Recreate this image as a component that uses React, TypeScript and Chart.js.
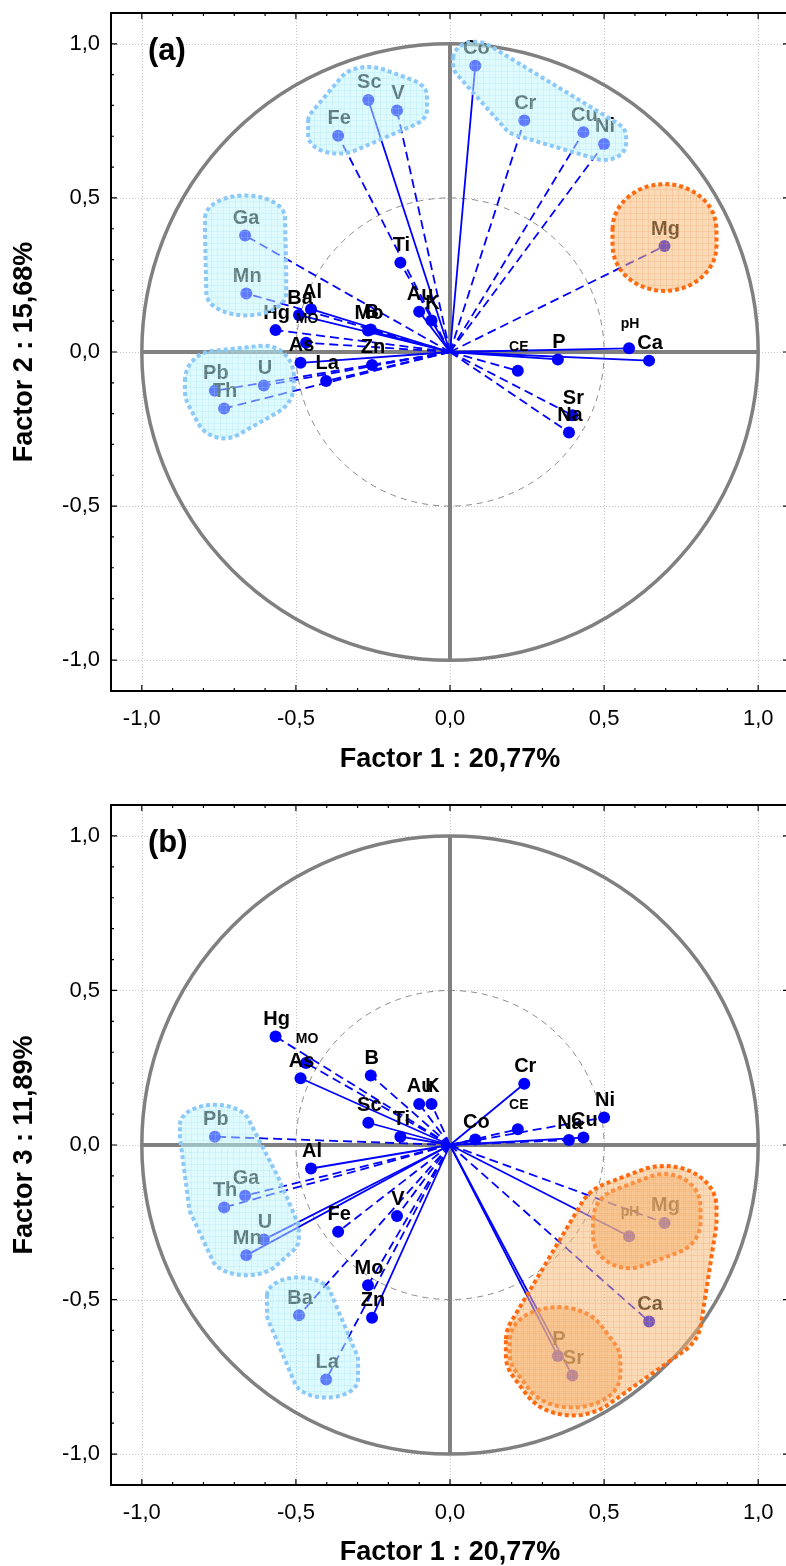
import React, { useEffect, useRef } from 'react';
import { Chart, registerables } from 'chart.js';

Chart.register(...registerables);

// ---------- DATA ----------
const VARIABLES = ['Al', 'As', 'Au', 'B', 'Ba', 'Ca', 'CE', 'Co', 'Cr', 'Cu', 'Fe', 'Ga', 'Hg', 'K', 'La', 'Mg', 'Mn', 'MO', 'Mo', 'Na', 'Ni', 'P', 'Pb', 'pH', 'Sc', 'Sr', 'Th', 'Ti', 'U', 'V', 'Zn'];
const FACTOR1 = [-0.451, -0.485, -0.100, -0.257, -0.490, 0.646, 0.220, 0.082, 0.241, 0.433, -0.363, -0.665, -0.566, -0.060, -0.402, 0.696, -0.661, -0.467, -0.266, 0.386, 0.500, 0.350, -0.763, 0.581, -0.265, 0.397, -0.733, -0.161, -0.604, -0.172, -0.253];
const FACTOR2 = [0.139, -0.035, 0.131, 0.073, 0.120, -0.028, -0.061, 0.929, 0.751, 0.713, 0.702, 0.378, 0.071, 0.102, -0.094, 0.344, 0.190, 0.030, 0.070, -0.261, 0.675, -0.024, -0.126, 0.012, 0.818, -0.205, -0.183, 0.290, -0.109, 0.784, -0.042];
const FACTOR3 = [-0.076, 0.216, 0.133, 0.225, -0.551, -0.571, 0.051, 0.018, 0.198, 0.024, -0.281, -0.164, 0.351, 0.133, -0.759, -0.252, -0.357, 0.265, -0.454, 0.016, 0.089, -0.683, 0.027, -0.295, 0.072, -0.746, -0.202, 0.027, -0.306, -0.230, -0.559];
const SMALL_LABELS = ['CE', 'pH', 'MO'];
const TICK_VALUES = [-1.0, -0.5, 0.0, 0.5, 1.0];
const AXIS_MIN = -1.1;
const AXIS_MAX = 1.1;
const X_TITLE = 'Factor 1 : 20,77%';
const Y_TITLE_A = 'Factor 2 : 15,68%';
const Y_TITLE_B = 'Factor 3 : 11,89%';
const DASHED_A = ['Fe', 'V', 'Cr', 'Cu', 'Ni', 'Mg', 'Ga', 'Mn', 'Hg', 'MO', 'B', 'Zn', 'La', 'Pb', 'Th', 'U', 'CE', 'Sr', 'Na', 'Ti'];
const DASHED_B = ['Hg', 'MO', 'B', 'Au', 'K', 'Pb', 'Ga', 'Th', 'Fe', 'V', 'Ba', 'La', 'CE', 'Na', 'Ni', 'Mg', 'Ca', 'Mo'];
const GROUPS_A = [
  { members: ['Sc', 'V', 'Fe'], kind: 'cyan' },
  { members: ['Co', 'Cr', 'Cu', 'Ni'], kind: 'cyan' },
  { members: ['Ga', 'Mn'], kind: 'cyan' },
  { members: ['Pb', 'Th', 'U'], kind: 'cyan' },
  { members: ['Mg'], kind: 'orange' },
];
const GROUPS_B = [
  { members: ['Pb', 'Ga', 'Th', 'U', 'Mn'], kind: 'cyan' },
  { members: ['Ba', 'La'], kind: 'cyan' },
  { members: ['pH', 'Mg'], kind: 'orange' },
  { members: ['P', 'Sr'], kind: 'orange' },
  { members: ['pH', 'Mg', 'Ca', 'P', 'Sr'], kind: 'orange' },
];

// ---------- STYLE ----------
const FAMILY = "'Liberation Sans', Arial, Helvetica, sans-serif";
const BLOB_PAD_A = [
  { rx: 30, ry: 18, lift: 15 },
  { rx: 22, ry: 16, lift: 8 },
  { rx: 40, ry: 22, lift: 18 },
  { rx: 30, ry: 30, lift: 10 },
  { rx: 52, ry: 45, lift: 17 },
];
const BLOB_PAD_B = [
  { rx: 35, ry: 20, lift: 12 },
  { rx: 32, ry: 18, lift: 20 },
  { rx: 36, ry: 32, lift: 17 },
  { rx: 48, ry: 32, lift: 17 },
  { rx: 52, ry: 40, lift: 17 },
];
const BLOB_STYLE: Record<string, { fill: string; hatch: string; border: string }> = {
  cyan: { fill: 'rgb(190,245,250)', hatch: 'rgba(150,220,240,0.22)', border: '#8cc8f8' },
  orange: { fill: 'rgb(246,180,112)', hatch: 'rgba(240,160,90,0.22)', border: '#ff6a10' },
};

const fmt = (v: number) => Number(v).toFixed(1).replace('.', ',');

function convexHull(points: number[][]) {
  const p = points.slice().sort((a, b) => (a[0] - b[0]) || (a[1] - b[1]));
  const cross = (o: number[], a: number[], b: number[]) => (a[0] - o[0]) * (b[1] - o[1]) - (a[1] - o[1]) * (b[0] - o[0]);
  const lower: number[][] = [];
  for (const pt of p) {
    while (lower.length >= 2 && cross(lower[lower.length - 2], lower[lower.length - 1], pt) <= 0) lower.pop();
    lower.push(pt);
  }
  const upper: number[][] = [];
  for (let i = p.length - 1; i >= 0; i--) {
    const pt = p[i];
    while (upper.length >= 2 && cross(upper[upper.length - 2], upper[upper.length - 1], pt) <= 0) upper.pop();
    upper.push(pt);
  }
  upper.pop();
  lower.pop();
  return lower.concat(upper);
}

function labelLift(name: string) {
  return SMALL_LABELS.includes(name) ? 24 : 17;
}

function makePlugin(panel: string, ys: number[], groups: any[], pads: any[]) {
  return {
    id: 'decor_' + panel,
    beforeDatasetsDraw(chart: any) {
      const { ctx, chartArea: ca, scales } = chart;
      const x = scales.x, y = scales.y;
      ctx.save();
      ctx.strokeStyle = '#c4c4c4';
      ctx.lineWidth = 1;
      ctx.setLineDash([1, 2]);
      for (const v of TICK_VALUES) {
        const px = Math.round(x.getPixelForValue(v)) + 0.5;
        ctx.beginPath(); ctx.moveTo(px, ca.top); ctx.lineTo(px, ca.bottom); ctx.stroke();
        const py = Math.round(y.getPixelForValue(v)) + 0.5;
        ctx.beginPath(); ctx.moveTo(ca.left, py); ctx.lineTo(ca.right, py); ctx.stroke();
      }
      const cx = x.getPixelForValue(0), cy = y.getPixelForValue(0);
      const rX = x.getPixelForValue(1) - cx, rY = cy - y.getPixelForValue(1);
      ctx.setLineDash([6, 5]);
      ctx.strokeStyle = '#8a8a8a';
      ctx.lineWidth = 1;
      ctx.beginPath(); ctx.ellipse(cx, cy, rX / 2, rY / 2, 0, 0, Math.PI * 2); ctx.stroke();
      ctx.setLineDash([]);
      ctx.strokeStyle = '#808080';
      ctx.lineWidth = 3.5;
      ctx.beginPath(); ctx.ellipse(cx, cy, rX, rY, 0, 0, Math.PI * 2); ctx.stroke();
      ctx.lineWidth = 4;
      ctx.beginPath();
      ctx.moveTo(x.getPixelForValue(-1), cy); ctx.lineTo(x.getPixelForValue(1), cy);
      ctx.moveTo(cx, y.getPixelForValue(1)); ctx.lineTo(cx, y.getPixelForValue(-1));
      ctx.stroke();
      ctx.restore();
    },
    afterDatasetsDraw(chart: any) {
      const { ctx, scales } = chart;
      const x = scales.x, y = scales.y;
      const pos = (name: string) => {
        const i = VARIABLES.indexOf(name);
        return [x.getPixelForValue(FACTOR1[i]), y.getPixelForValue(ys[i])];
      };
      ctx.save();
      ctx.fillStyle = '#000';
      ctx.textAlign = 'center';
      ctx.textBaseline = 'middle';
      VARIABLES.forEach((name) => {
        const [px, py] = pos(name);
        const small = SMALL_LABELS.includes(name);
        ctx.font = `bold ${small ? 14 : 20}px ${FAMILY}`;
        ctx.fillText(name, px + 1, py - labelLift(name));
      });
      groups.forEach((g, gi) => {
        const pad = pads[gi];
        const st = BLOB_STYLE[g.kind];
        const samples: number[][] = [];
        g.members.forEach((m: string) => {
          const [px, py] = pos(m);
          for (const lf of [0, pad.lift]) {
            for (let k = 0; k < 36; k++) {
              const a = (k / 36) * Math.PI * 2;
              samples.push([px + pad.rx * Math.cos(a), py - lf + pad.ry * Math.sin(a)]);
            }
          }
        });
        const hull = convexHull(samples);
        const path = () => {
          ctx.beginPath();
          hull.forEach((p, i) => (i ? ctx.lineTo(p[0], p[1]) : ctx.moveTo(p[0], p[1])));
          ctx.closePath();
        };
        ctx.save();
        path();
        ctx.globalAlpha = 0.5;
        ctx.fillStyle = st.fill;
        ctx.fill();
        ctx.clip();
        ctx.globalAlpha = 1;
        ctx.strokeStyle = st.hatch;
        ctx.lineWidth = 1;
        let minX = Infinity, maxX = -Infinity, minY = Infinity, maxY = -Infinity;
        hull.forEach((p) => { minX = Math.min(minX, p[0]); maxX = Math.max(maxX, p[0]); minY = Math.min(minY, p[1]); maxY = Math.max(maxY, p[1]); });
        ctx.beginPath();
        for (let xx = Math.floor(minX) + 0.5; xx < maxX; xx += 6) { ctx.moveTo(xx, minY); ctx.lineTo(xx, maxY); }
        for (let yy = Math.floor(minY) + 0.5; yy < maxY; yy += 6) { ctx.moveTo(minX, yy); ctx.lineTo(maxX, yy); }
        ctx.stroke();
        ctx.restore();
        ctx.save();
        path();
        ctx.setLineDash([4, 3]);
        ctx.lineWidth = 4;
        ctx.strokeStyle = st.border;
        ctx.stroke();
        ctx.restore();
      });
      ctx.restore();
    },
    afterDraw(chart: any) {
      const { ctx, chartArea: ca, scales } = chart;
      const x = scales.x, y = scales.y;
      ctx.save();
      ctx.strokeStyle = '#000';
      ctx.lineWidth = 2;
      ctx.strokeRect(ca.left, ca.top, ca.right - ca.left, ca.bottom - ca.top);
      ctx.lineWidth = 1.2;
      ctx.beginPath();
      for (let k = -10; k <= 10; k++) {
        const v = k / 10;
        const len = k % 5 === 0 ? 6 : 3;
        const px = x.getPixelForValue(v);
        ctx.moveTo(px, ca.bottom); ctx.lineTo(px, ca.bottom - len);
        ctx.moveTo(px, ca.top); ctx.lineTo(px, ca.top + len);
        const py = y.getPixelForValue(v);
        ctx.moveTo(ca.left, py); ctx.lineTo(ca.left + len, py);
        ctx.moveTo(ca.right, py); ctx.lineTo(ca.right - len, py);
      }
      ctx.stroke();
      ctx.fillStyle = '#000';
      ctx.font = `bold 31px ${FAMILY}`;
      ctx.textAlign = 'left';
      ctx.textBaseline = 'alphabetic';
      ctx.fillText(`(${panel})`, ca.left + 37, ca.top + 47);
      ctx.restore();
    },
  };
}

function buildConfig(panel: string, ys: number[], dashed: string[], groups: any[], pads: any[], yTitle: string, xAxisH: number, xTitlePad: number) {
  const datasets = VARIABLES.map((name, i) => ({
    label: name,
    data: [{ x: 0, y: 0 }, { x: FACTOR1[i], y: ys[i] }],
    showLine: true,
    borderColor: '#0000ff',
    borderWidth: 1.8,
    borderDash: dashed.includes(name) ? [9, 5] : [],
    pointRadius: (c: any) => (c.dataIndex === 1 ? 6 : 0),
    pointHoverRadius: 0,
    pointBackgroundColor: '#0000ff',
    pointBorderColor: '#0000ff',
    pointBorderWidth: 0,
  }));
  const setTicks = (s: any) => { s.ticks = TICK_VALUES.map((v) => ({ value: v })); };
  return {
    type: 'scatter' as const,
    data: { datasets },
    options: {
      responsive: false,
      maintainAspectRatio: false,
      animation: false as const,
      events: [],
      layout: { padding: { top: 13, right: 11, bottom: 0, left: 0 } },
      plugins: { legend: { display: false }, tooltip: { enabled: false } },
      scales: {
        x: {
          type: 'linear' as const,
          position: 'bottom' as const,
          min: AXIS_MIN,
          max: AXIS_MAX,
          afterBuildTicks: setTicks,
          afterFit: (s: any) => { s.height = xAxisH; s.paddingLeft = 0; s.paddingRight = 0; },
          grid: { display: false, drawTicks: false },
          border: { display: false },
          ticks: { color: '#000', font: { family: FAMILY, size: 22 }, padding: 15, autoSkip: false, maxRotation: 0, callback: (v: any) => fmt(v) },
          title: { display: true, text: X_TITLE, color: '#000', font: { family: FAMILY, size: 27, weight: 'bold' as const, lineHeight: 1 }, padding: { top: 0, bottom: xTitlePad } },
        },
        y: {
          type: 'linear' as const,
          position: 'left' as const,
          min: AXIS_MIN,
          max: AXIS_MAX,
          afterBuildTicks: setTicks,
          afterFit: (s: any) => { s.width = 111; s.paddingTop = 0; s.paddingBottom = 0; },
          grid: { display: false, drawTicks: false },
          border: { display: false },
          ticks: { color: '#000', font: { family: FAMILY, size: 22 }, padding: 11, autoSkip: false, callback: (v: any) => fmt(v) },
          title: { display: true, text: yTitle, color: '#000', font: { family: FAMILY, size: 27, weight: 'bold' as const, lineHeight: 1 }, padding: { top: 11.5, bottom: 0 } },
        },
      },
    },
    plugins: [makePlugin(panel, ys, groups, pads)],
  };
}

function Panel(props: { panel: string; ys: number[]; dashed: string[]; groups: any[]; pads: any[]; yTitle: string; top: number; height: number; xAxisH: number; xTitlePad: number }) {
  const ref = useRef<HTMLCanvasElement>(null);
  useEffect(() => {
    const cfg: any = buildConfig(props.panel, props.ys, props.dashed, props.groups, props.pads, props.yTitle, props.xAxisH, props.xTitlePad);
    const chart = new Chart(ref.current as HTMLCanvasElement, cfg);
    return () => chart.destroy();
  }, []);
  return (
    <canvas
      ref={ref}
      width={800}
      height={props.height}
      style={{ position: 'absolute', left: 0, top: props.top, width: 800, height: props.height, display: 'block' }}
    />
  );
}

export default function App() {
  return (
    <div style={{ position: 'absolute', left: 0, top: 0, width: 786, height: 1566, overflow: 'hidden', background: '#fff' }}>
      <Panel panel="a" ys={FACTOR2} dashed={DASHED_A} groups={GROUPS_A} pads={BLOB_PAD_A} yTitle={Y_TITLE_A} top={0} height={790} xAxisH={99} xTitlePad={16.5} />
      <Panel panel="b" ys={FACTOR3} dashed={DASHED_B} groups={GROUPS_B} pads={BLOB_PAD_B} yTitle={Y_TITLE_B} top={792} height={774} xAxisH={81} xTitlePad={0} />
    </div>
  );
}
